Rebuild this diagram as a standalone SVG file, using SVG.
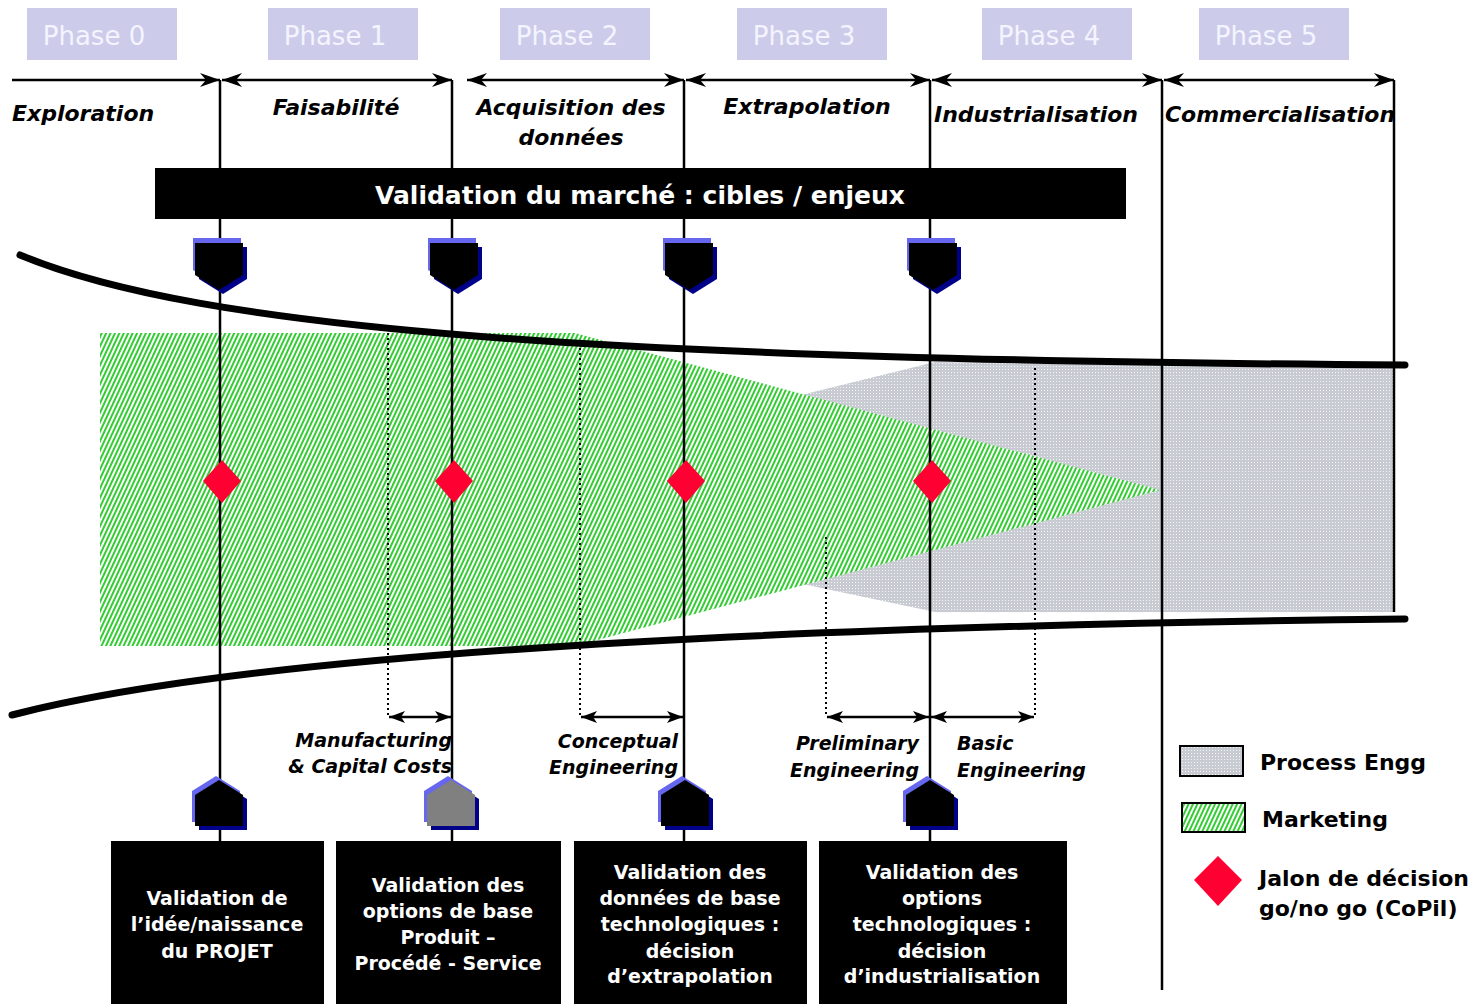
<svg xmlns="http://www.w3.org/2000/svg" width="1477" height="1004" viewBox="0 0 1477 1004">
<defs>
<pattern id="green" width="4" height="4" patternUnits="userSpaceOnUse" patternTransform="rotate(25)">
<rect width="4" height="4" fill="#ffffff"/>
<rect width="2" height="4" fill="#33cc33"/>
</pattern>
<pattern id="grey" width="3" height="3" patternUnits="userSpaceOnUse">
<rect width="3" height="3" fill="#c8ccd2"/>
<rect width="1" height="1" fill="#f4f6f8"/>
</pattern>
<marker id="ah" viewBox="0 0 20 14" refX="20" refY="7" markerWidth="20" markerHeight="14" orient="auto-start-reverse" markerUnits="userSpaceOnUse">
<path d="M0,0 L20,7 L0,14 L6,7 z" fill="#000"/>
</marker>
<marker id="ahs" viewBox="0 0 16 12" refX="16" refY="6" markerWidth="16" markerHeight="12" orient="auto-start-reverse" markerUnits="userSpaceOnUse">
<path d="M0,0 L16,6 L0,12 L4,6 z" fill="#000"/>
</marker>
<polygon id="shieldDown" points="0,0 48,0 48,32 24,47 0,32"/>
<polygon id="shieldUp" points="0,15 24,0 48,15 48,46 0,46"/>
</defs>
<style>
.phase{fill:#ccccea}
.phtxt{font-family:"DejaVu Sans",Verdana,sans-serif;font-size:26px;fill:#f4f4ff}
.hd{font-family:"DejaVu Sans",Verdana,sans-serif;font-size:22px;font-weight:bold;font-style:italic;fill:#000}
.sm{font-family:"DejaVu Sans",Verdana,sans-serif;font-size:19px;font-weight:bold;font-style:italic;fill:#000}
.bx{font-family:"DejaVu Sans",Verdana,sans-serif;font-size:19px;font-weight:bold;fill:#fff;text-anchor:middle}
.lg{font-family:"DejaVu Sans",Verdana,sans-serif;font-size:22px;font-weight:bold;fill:#000}
.ln{stroke:#000;stroke-width:2.5;fill:none}
.dot{stroke:#000;stroke-width:2;stroke-dasharray:2,3;fill:none}
.dia{fill:#ff0033}
</style>

<!-- background areas -->
<g id="areas">
<polygon points="793,397 935,362 1394,368 1394,612 935,612 793,582" fill="url(#grey)"/>
<polygon points="100,333 575,333 1160,490 575,646 100,646" fill="url(#green)"/>
</g>

<!-- funnel curves -->
<g id="curves" fill="none" stroke="#000" stroke-width="7" stroke-linecap="round">
<path d="M20,255 C200,330 600,360 1405,365"/>
<path d="M12,715 C200,666 600,628 1405,619"/>
</g>

<!-- phase headers -->
<g id="phase0"><rect class="phase" x="27" y="8" width="150" height="52"/><text class="phtxt" x="94" y="45" text-anchor="middle">Phase 0</text></g>
<g id="phase1"><rect class="phase" x="268" y="8" width="150" height="52"/><text class="phtxt" x="335" y="45" text-anchor="middle">Phase 1</text></g>
<g id="phase2"><rect class="phase" x="500" y="8" width="150" height="52"/><text class="phtxt" x="567" y="45" text-anchor="middle">Phase 2</text></g>
<g id="phase3"><rect class="phase" x="737" y="8" width="150" height="52"/><text class="phtxt" x="804" y="45" text-anchor="middle">Phase 3</text></g>
<g id="phase4"><rect class="phase" x="982" y="8" width="150" height="52"/><text class="phtxt" x="1049" y="45" text-anchor="middle">Phase 4</text></g>
<g id="phase5"><rect class="phase" x="1199" y="8" width="150" height="52"/><text class="phtxt" x="1266" y="45" text-anchor="middle">Phase 5</text></g>

<!-- connectors -->
<g id="connectors">
<line class="ln" x1="12" y1="80" x2="220" y2="80" marker-end="url(#ah)"/>
<line class="ln" x1="222" y1="80" x2="452" y2="80" marker-start="url(#ah)" marker-end="url(#ah)"/>
<line class="ln" x1="467" y1="80" x2="684" y2="80" marker-start="url(#ah)" marker-end="url(#ah)"/>
<line class="ln" x1="686" y1="80" x2="930" y2="80" marker-start="url(#ah)" marker-end="url(#ah)"/>
<line class="ln" x1="932" y1="80" x2="1162" y2="80" marker-start="url(#ah)" marker-end="url(#ah)"/>
<line class="ln" x1="1164" y1="80" x2="1394" y2="80" marker-start="url(#ah)" marker-end="url(#ah)"/>
<line class="ln" x1="220" y1="80" x2="220" y2="842"/>
<line class="ln" x1="452" y1="80" x2="452" y2="842"/>
<line class="ln" x1="684" y1="80" x2="684" y2="842"/>
<line class="ln" x1="930" y1="80" x2="930" y2="842"/>
<line class="ln" x1="1162" y1="80" x2="1162" y2="990"/>
<line class="ln" x1="1394" y1="80" x2="1394" y2="612"/>
<line class="dot" x1="388" y1="328" x2="388" y2="717"/>
<line class="dot" x1="580" y1="343" x2="580" y2="717"/>
<line class="dot" x1="826" y1="537" x2="826" y2="717"/>
<line class="dot" x1="1035" y1="368" x2="1035" y2="717"/>
<line class="ln" x1="389" y1="717" x2="451" y2="717" marker-start="url(#ahs)" marker-end="url(#ahs)"/>
<line class="ln" x1="581" y1="717" x2="683" y2="717" marker-start="url(#ahs)" marker-end="url(#ahs)"/>
<line class="ln" x1="827" y1="717" x2="929" y2="717" marker-start="url(#ahs)" marker-end="url(#ahs)"/>
<line class="ln" x1="931" y1="717" x2="1034" y2="717" marker-start="url(#ahs)" marker-end="url(#ahs)"/>
</g>

<!-- phase names -->
<g id="labels">
<text class="hd" x="12" y="121">Exploration</text>
<text class="hd" x="336" y="115" text-anchor="middle">Faisabilité</text>
<text class="hd" x="571" y="115" text-anchor="middle">Acquisition des</text>
<text class="hd" x="571" y="145" text-anchor="middle">données</text>
<text class="hd" x="807" y="114" text-anchor="middle">Extrapolation</text>
<text class="hd" x="1036" y="122" text-anchor="middle">Industrialisation</text>
<text class="hd" x="1280" y="122" text-anchor="middle">Commercialisation</text>
<text class="sm" x="452" y="747" text-anchor="end">Manufacturing</text>
<text class="sm" x="452" y="773" text-anchor="end">&amp; Capital Costs</text>
<text class="sm" x="678" y="748" text-anchor="end">Conceptual</text>
<text class="sm" x="678" y="774" text-anchor="end">Engineering</text>
<text class="sm" x="919" y="750" text-anchor="end">Preliminary</text>
<text class="sm" x="919" y="777" text-anchor="end">Engineering</text>
<text class="sm" x="957" y="750">Basic</text>
<text class="sm" x="957" y="777">Engineering</text>
</g>

<!-- market bar -->
<g id="market">
<rect x="155" y="168" width="971" height="51" fill="#000"/>
<text x="640" y="204" text-anchor="middle" font-family="'DejaVu Sans',Verdana,sans-serif" font-size="25" font-weight="bold" fill="#fff">Validation du marché : cibles / enjeux</text>
</g>

<!-- decision diamonds -->
<g id="jalon1"><polygon class="dia" points="222,460 241,481 222,503 203,481"/></g>
<g id="jalon2"><polygon class="dia" points="454,460 473,481 454,503 435,481"/></g>
<g id="jalon3"><polygon class="dia" points="686,460 705,481 686,503 667,481"/></g>
<g id="jalon4"><polygon class="dia" points="932,460 951,481 932,503 913,481"/></g>

<!-- top shields -->
<g id="shieldT1" transform="translate(195,243)"><use href="#shieldDown" x="-2" y="-5" fill="#6666ee"/><use href="#shieldDown" x="4" y="4" fill="#000088"/><use href="#shieldDown" fill="#000"/></g>
<g id="shieldT2" transform="translate(430,243)"><use href="#shieldDown" x="-2" y="-5" fill="#6666ee"/><use href="#shieldDown" x="4" y="4" fill="#000088"/><use href="#shieldDown" fill="#000"/></g>
<g id="shieldT3" transform="translate(665,243)"><use href="#shieldDown" x="-2" y="-5" fill="#6666ee"/><use href="#shieldDown" x="4" y="4" fill="#000088"/><use href="#shieldDown" fill="#000"/></g>
<g id="shieldT4" transform="translate(909,243)"><use href="#shieldDown" x="-2" y="-5" fill="#6666ee"/><use href="#shieldDown" x="4" y="4" fill="#000088"/><use href="#shieldDown" fill="#000"/></g>

<!-- bottom shields -->
<g id="shieldB1" transform="translate(195,780)"><use href="#shieldUp" x="-3" y="-4" fill="#6666ee"/><use href="#shieldUp" x="4" y="4" fill="#000088"/><use href="#shieldUp" fill="#000"/></g>
<g id="shieldB2" transform="translate(427,780)"><use href="#shieldUp" x="-3" y="-4" fill="#6666ee"/><use href="#shieldUp" x="4" y="4" fill="#000088"/><use href="#shieldUp" fill="#808080"/></g>
<g id="shieldB3" transform="translate(661,780)"><use href="#shieldUp" x="-3" y="-4" fill="#6666ee"/><use href="#shieldUp" x="4" y="4" fill="#000088"/><use href="#shieldUp" fill="#000"/></g>
<g id="shieldB4" transform="translate(906,780)"><use href="#shieldUp" x="-3" y="-4" fill="#6666ee"/><use href="#shieldUp" x="4" y="4" fill="#000088"/><use href="#shieldUp" fill="#000"/></g>

<!-- bottom boxes -->
<g id="box1"><rect x="111" y="841" width="213" height="163" fill="#000"/>
<text class="bx" x="217" y="905">Validation de</text><text class="bx" x="217" y="931">l’idée/naissance</text><text class="bx" x="217" y="958">du PROJET</text></g>
<g id="box2"><rect x="336" y="841" width="225" height="163" fill="#000"/>
<text class="bx" x="448" y="892">Validation des</text><text class="bx" x="448" y="918">options de base</text><text class="bx" x="448" y="944">Produit –</text><text class="bx" x="448" y="970">Procédé - Service</text></g>
<g id="box3"><rect x="574" y="841" width="233" height="163" fill="#000"/>
<text class="bx" x="690" y="879">Validation des</text><text class="bx" x="690" y="905">données de base</text><text class="bx" x="690" y="931">technologiques :</text><text class="bx" x="690" y="958">décision</text><text class="bx" x="690" y="983">d’extrapolation</text></g>
<g id="box4"><rect x="819" y="841" width="248" height="163" fill="#000"/>
<text class="bx" x="942" y="879">Validation des</text><text class="bx" x="942" y="905">options</text><text class="bx" x="942" y="931">technologiques :</text><text class="bx" x="942" y="958">décision</text><text class="bx" x="942" y="983">d’industrialisation</text></g>

<!-- legend -->
<g id="legend">
<rect x="1180" y="746" width="63" height="30" fill="url(#grey)" stroke="#000" stroke-width="2"/>
<text class="lg" x="1260" y="770">Process Engg</text>
<rect x="1182" y="803" width="63" height="29" fill="url(#green)" stroke="#000" stroke-width="2"/>
<text class="lg" x="1262" y="827">Marketing</text>
<polygon class="dia" points="1218,856 1242,880 1218,906 1194,880"/>
<text class="lg" x="1259" y="886">Jalon de décision</text>
<text class="lg" x="1259" y="916">go/no go (CoPil)</text>
</g>
</svg>
